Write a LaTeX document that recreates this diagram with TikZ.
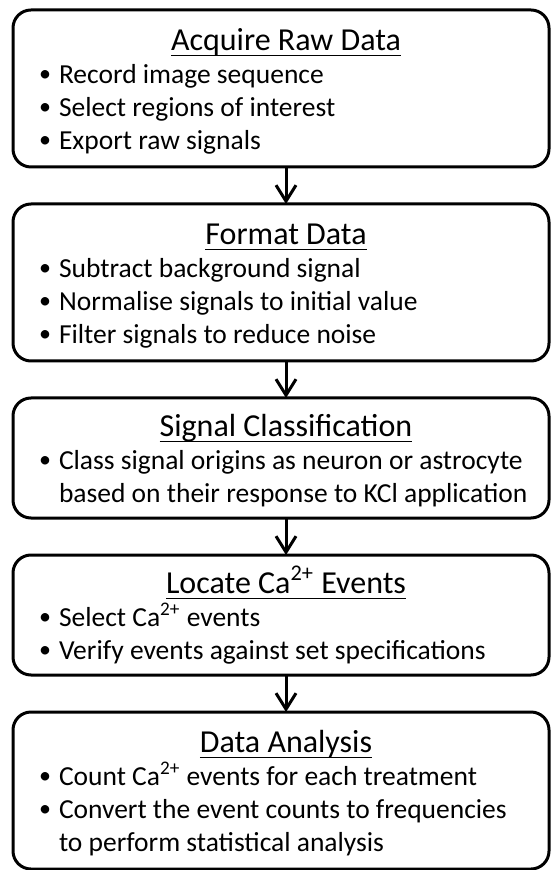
\documentclass[tikz,border=0pt]{standalone}
\usepackage{fontspec}
\setmainfont{Carlito}
\usepackage{tikz}
\usetikzlibrary{arrows.meta,positioning}

\newcommand{\ttl}[1]{\makebox[\linewidth]{\hspace*{5pt}\fontsize{16pt}{16.5pt}\selectfont\setbox0\hbox{#1}\rlap{\rule[-3pt]{\wd0}{0.75pt}}\box0}}
\newcommand{\itm}{\makebox[23pt][l]{\hspace{16pt}\makebox[0pt][c]{\raisebox{1.1pt}{\fontsize{12pt}{10pt}\selectfont\textbullet}}}}
\newcommand{\ind}{\hspace*{23pt}}

\begin{document}
\begin{tikzpicture}[>={Straight Barb[length=8pt,width=10pt]},node distance=18.5pt]
	\tikzstyle{stage}=[draw,line width=1.5pt,rounded corners=9pt,text width=268pt,inner xsep=0pt,inner ysep=0pt,outer sep=0pt,align=flush left,font=\fontsize{13.75pt}{16.5pt}\selectfont]
	\tikzstyle{tall}=[stage,text height=20.2pt,text depth=58.3pt]
	\tikzstyle{short}=[stage,text height=19.2pt,text depth=40.8pt]
	\useasboundingbox (0,0) rectangle (275pt,-435pt);
	\node[tall,anchor=north] (acq) at (140.5pt,-5pt) {\ttl{Acquire Raw Data}\\
		\itm Record image sequence\\
		\itm Select regions of interest\\
		\itm Export raw signals};
	\node[tall,below=of acq] (fmt) {\ttl{Format Data}\\
		\itm Subtract background signal\\
		\itm Normalise signals to initial value\\
		\itm Filter signals to reduce noise};
	\node[short,below=of fmt] (cls) {\ttl{Signal Classification}\\
		\itm Class signal origins as neuron or astrocyte\\
		\ind based on their response to KCl application};
	\node[short,below=of cls] (evt) {\ttl{Locate Ca\textsuperscript{2+} Events}\\
		\itm Select Ca\textsuperscript{2+} events\\
		\itm Verify events against set specifications};
	\node[tall,below=of evt] (ana) {\ttl{Data Analysis}\\
		\itm Count Ca\textsuperscript{2+} events for each treatment\\
		\itm Convert the event counts to frequencies\\
		\ind to perform statistical analysis};
	\draw[->,line width=1.5pt] ([xshift=2.5pt]acq.south)--([xshift=2.5pt]fmt.north);
	\draw[->,line width=1.5pt] ([xshift=2.5pt]fmt.south)--([xshift=2.5pt]cls.north);
	\draw[->,line width=1.5pt] ([xshift=2.5pt]cls.south)--([xshift=2.5pt]evt.north);
	\draw[->,line width=1.5pt] ([xshift=2.5pt]evt.south)--([xshift=2.5pt]ana.north);
\end{tikzpicture}
\end{document}
